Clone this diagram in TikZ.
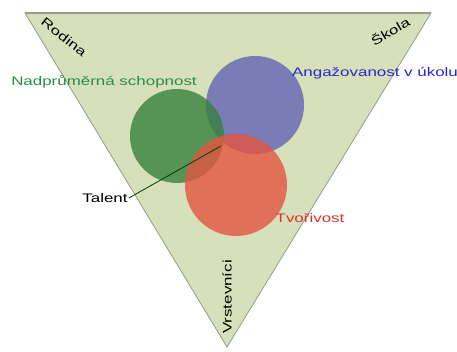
\documentclass[tikz,border=0pt]{standalone}
\usepackage{fontspec}
\setmainfont{Liberation Sans}
\newfontfamily\widesans[FakeStretch=1.36]{Liberation Sans}
\begin{document}
\begin{tikzpicture}[x=1bp,y=-1bp,
  lbl/.style={font=\widesans\fontsize{12.5}{14}\selectfont, inner sep=1pt},
  blob/.style={circle, draw=none, fill opacity=0.8},
  lead/.style={draw=black!75!green, line width=0.8pt}]
\definecolor{field}{RGB}{214,224,186}
\definecolor{edge}{RGB}{150,155,140}
\definecolor{cgreen}{RGB}{55,130,60}
\definecolor{cblue}{RGB}{100,100,180}
\definecolor{cred}{RGB}{228,85,65}
\definecolor{tgreen}{RGB}{40,140,70}
\definecolor{tblue}{RGB}{40,40,200}
\definecolor{tred}{RGB}{225,50,40}
\useasboundingbox (0,0) rectangle (457,351);
\fill[white] (0,0) rectangle (457,351);
% triangle background
\coordinate (tl) at (25,13);
\coordinate (tr) at (431,13);
\coordinate (bt) at (227,347);
\filldraw[fill=field, draw=edge, line width=0.8pt] (tl) -- (tr) -- (bt) -- cycle;
\draw[edge, line width=2pt] (tl) -- (tr);
% circles
\node[blob, fill=cblue, minimum size=98bp] (angaz) at (255,105) {};
\node[blob, fill=cgreen, minimum size=94bp] (nadpr) at (177,136) {};
\node[blob, fill=cred, minimum size=102bp] (tvor) at (236,185) {};
% corner labels
\node[lbl, rotate=-38] (rodina) at (64,37) {Rodina};
\node[lbl, rotate=30] (skola) at (390,31) {Škola};
\node[lbl, rotate=90] (vrst) at (227,297) {Vrstevníci};
% circle labels
\node[lbl, text=tgreen] (lnadpr) at (104,82) {Nadprůměrná schopnost};
\node[lbl, text=tblue, anchor=west] (lang) at (291,73) {Angažovanost v úkolu};
\node[lbl, text=tred] (ltvor) at (310,218) {Tvořivost};
\node[lbl] (talent) at (105,198) {Talent};
\coordinate (core) at (221,146);
\draw[lead] (talent.east) -- (core);
\end{tikzpicture}
\end{document}
